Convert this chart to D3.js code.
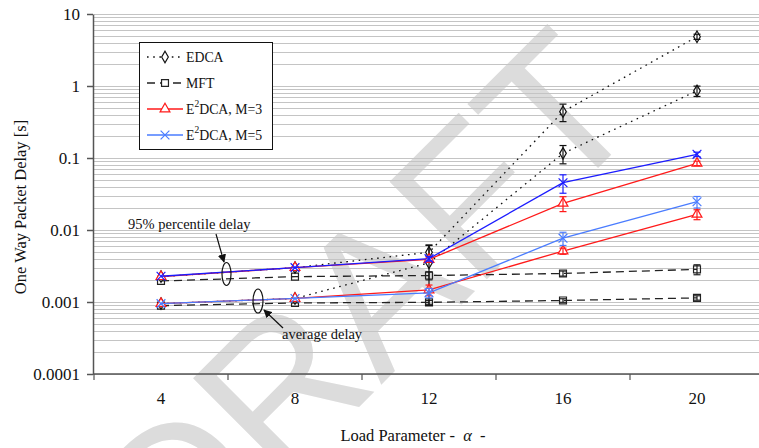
<!DOCTYPE html>
<html>
<head>
<meta charset="utf-8">
<script src="https://cdn.jsdelivr.net/npm/d3@7"></script>
<style>
  body { margin: 0; background: #fff; }
  svg text { font-family: "Liberation Serif", "Times New Roman", Times, "DejaVu Serif", serif; }
  svg text.wm { font-family: "Liberation Sans", Arial, sans-serif; }
</style>
</head>
<body>
<svg width="759" height="448"></svg>
<script>
// load parameter (categories)
const alpha = [4, 8, 12, 16, 20];
const yTicks = [0.0001, 0.001, 0.01, 0.1, 1, 10];

// 95% percentile delay [s]
const edca95 = [0.00225, 0.0030, 0.0049, 0.44, 4.84];
const mft95 = [0.00196, 0.00225, 0.00233, 0.00249, 0.00284];
const m3p95 = [0.00225, 0.0030, 0.0039, 0.0235, 0.0843];
const m5p95 = [0.00228, 0.0030, 0.0040, 0.0454, 0.1125];

// average delay [s]
const edcaAvg = [0.00095, 0.00112, 0.0035, 0.116, 0.856];
const mftAvg = [0.00089, 0.00097, 0.00099, 0.00105, 0.00114];
const m3Avg = [0.00095, 0.00112, 0.00147, 0.0051, 0.0165];
const m5Avg = [0.00095, 0.00112, 0.00134, 0.0077, 0.0247];

// error bars (+/-)
const edca95Err = [0, 0, 0.0013, 0.12, 0.4];
const mft95Err = [0, 0, 0.0003, 0.0002, 0.00045];
const m3p95Err = [0, 0, 0.0003, 0.0055, 0.006];
const m5p95Err = [0, 0, 0.0003, 0.013, 0.008];
const edcaAvgErr = [0, 0, 0.0026, 0.033, 0.14];
const mftAvgErr = [0, 0, 0.00006, 0.00006, 0.00008];
const m3AvgErr = [0, 0, 0.00025, 0.0005, 0.0026];
const m5AvgErr = [0, 0, 0.0002, 0.0016, 0.0045];

const svg = d3.select("svg");
const width = +svg.attr("width");

const x = d3.scaleBand().domain(alpha).range([94, 764]);
const y = d3.scaleLog().domain([0.0001, 10]).range([374, 14]);
const cx = (d) => x(d) + x.bandwidth() / 2;

// watermark
svg
  .append("text")
  .attr("class", "wm")
  .attr("transform", "translate(648,118) rotate(-45)")
  .attr("text-anchor", "end")
  .attr("font-size", 200)
  .attr("fill", "#dcdcdc")
  .text("DRAFT");

// gridlines
svg
  .append("g")
  .selectAll("line")
  .data(y.ticks())
  .enter()
  .append("line")
  .attr("x1", 94)
  .attr("x2", width)
  .attr("y1", (d) => Math.round(y(d)) + 0.5)
  .attr("y2", (d) => Math.round(y(d)) + 0.5)
  .attr("stroke", "#c4c4c4")
  .attr("stroke-width", 1);

// y axis
const yAxis = svg
  .append("g")
  .attr("transform", "translate(93,0)")
  .call(
    d3.axisLeft(y).tickValues(yTicks).tickFormat(String).tickSize(6).tickSizeOuter(0).tickPadding(7)
  );
yAxis.attr("font-family", null);
yAxis.select(".domain").attr("stroke", "#555").attr("stroke-width", 1.5);
yAxis.selectAll(".tick line").attr("stroke", "#555").attr("stroke-width", 1.5);
yAxis.selectAll("text").attr("font-size", 17).attr("fill", "#111");

// x axis (labels at centre, ticks between categories)
const xAxis = svg
  .append("g")
  .attr("transform", "translate(0,374)")
  .call(d3.axisBottom(x).tickSize(0).tickPadding(18).tickSizeOuter(0));
xAxis.attr("font-family", null);
xAxis.select(".domain").remove();
xAxis.selectAll("text").attr("font-size", 17).attr("fill", "#111");
svg
  .append("line")
  .attr("x1", 93)
  .attr("x2", width)
  .attr("y1", 374)
  .attr("y2", 374)
  .attr("stroke", "#555")
  .attr("stroke-width", 1.5);
svg
  .append("g")
  .selectAll("line")
  .data(alpha)
  .enter()
  .append("line")
  .attr("x1", (d) => x(d))
  .attr("x2", (d) => x(d))
  .attr("y1", 374)
  .attr("y2", 380)
  .attr("stroke", "#555")
  .attr("stroke-width", 1.2);

// axis titles
const xTitle = svg
  .append("text")
  .attr("x", 413)
  .attr("y", 441)
  .attr("text-anchor", "middle")
  .attr("font-size", 16.5)
  .attr("fill", "#111")
  .attr("xml:space", "preserve");
xTitle.append("tspan").text("Load Parameter -  ");
xTitle.append("tspan").attr("font-style", "italic").text("α");
xTitle.append("tspan").text("  -");

svg
  .append("text")
  .attr("transform", "translate(26,207) rotate(-90)")
  .attr("text-anchor", "middle")
  .attr("font-size", 16.5)
  .attr("fill", "#111")
  .text("One Way Packet Delay [s]");

// series
const styles = {
  EDCA: { color: "#111", dash: "1.6,4.6", symbol: d3.symbolDiamond, size: 38, fill: "#fff" },
  MFT: { color: "#222", dash: "8,5", symbol: d3.symbolSquare, size: 48, fill: "none" },
  M3: { color: "#ff1a1a", dash: null, symbol: d3.symbolTriangle, size: 42, fill: "#fff" },
  M5: { color: "#1c1cff", dash: null, symbol: d3.symbolTimes, size: 52, fill: "none" },
  M5avg: { color: "#4a7cff", dash: null, symbol: d3.symbolTimes, size: 52, fill: "none" },
};

const series = [
  { s: styles.MFT, values: mft95, err: mft95Err },
  { s: styles.MFT, values: mftAvg, err: mftAvgErr },
  { s: styles.EDCA, values: edca95, err: edca95Err },
  { s: styles.EDCA, values: edcaAvg, err: edcaAvgErr },
  { s: styles.M3, values: m3p95, err: m3p95Err },
  { s: styles.M3, values: m3Avg, err: m3AvgErr },
  { s: styles.M5, values: m5p95, err: m5p95Err },
  { s: styles.M5avg, values: m5Avg, err: m5AvgErr },
];

const line = d3
  .line()
  .x((d) => cx(d.a))
  .y((d) => y(d.v));

series.forEach((ser) => {
  const pts = alpha.map((a, i) => ({ a, v: ser.values[i], e: ser.err[i] }));
  const g = svg.append("g");

  g.append("path")
    .attr("d", line(pts))
    .attr("fill", "none")
    .attr("stroke", ser.s.color)
    .attr("stroke-width", 1.3)
    .attr("stroke-dasharray", ser.s.dash);

  g.selectAll(".mk")
    .data(pts)
    .enter()
    .append("path")
    .attr("transform", (d) => `translate(${cx(d.a)},${y(d.v)})`)
    .attr("d", d3.symbol().type(ser.s.symbol).size(ser.s.size))
    .attr("fill", ser.s.fill)
    .attr("stroke", ser.s.color)
    .attr("stroke-width", 1.2);

  // error bars
  const eb = g
    .selectAll(".eb")
    .data(pts.filter((d) => d.e > 0))
    .enter()
    .append("g")
    .attr("stroke", ser.s.color)
    .attr("stroke-width", 1.2);
  eb.append("line")
    .attr("x1", (d) => cx(d.a))
    .attr("x2", (d) => cx(d.a))
    .attr("y1", (d) => y(d.v + d.e))
    .attr("y2", (d) => y(Math.max(d.v - d.e, 0.00011)));
  eb.append("line")
    .attr("x1", (d) => cx(d.a) - 3.5)
    .attr("x2", (d) => cx(d.a) + 3.5)
    .attr("y1", (d) => y(d.v + d.e))
    .attr("y2", (d) => y(d.v + d.e));
  eb.append("line")
    .attr("x1", (d) => cx(d.a) - 3.5)
    .attr("x2", (d) => cx(d.a) + 3.5)
    .attr("y1", (d) => y(Math.max(d.v - d.e, 0.00011)))
    .attr("y2", (d) => y(Math.max(d.v - d.e, 0.00011)));
});

// legend
const legendItems = [
  { s: styles.EDCA, label: ["EDCA"] },
  { s: styles.MFT, label: ["MFT"] },
  { s: styles.M3, label: ["E", "2", "DCA, M=3"] },
  { s: { ...styles.M5, color: "#4a7cff" }, label: ["E", "2", "DCA, M=5"] },
];

const legend = svg.append("g");
legend
  .append("rect")
  .attr("x", 139.5)
  .attr("y", 42.5)
  .attr("width", 133)
  .attr("height", 107)
  .attr("fill", "#fff")
  .attr("stroke", "#111")
  .attr("stroke-width", 1);

legendItems.forEach((it, i) => {
  const ly = 57 + i * 26;
  legend
    .append("line")
    .attr("x1", 147)
    .attr("x2", 183)
    .attr("y1", ly)
    .attr("y2", ly)
    .attr("stroke", it.s.color)
    .attr("stroke-width", it.s.dash ? 1.6 : 1.3)
    .attr("stroke-dasharray", it.s.dash);
  legend
    .append("path")
    .attr("transform", `translate(165,${ly})`)
    .attr("d", d3.symbol().type(it.s.symbol).size(it.s.size))
    .attr("fill", it.s.fill === "none" ? "#fff" : it.s.fill)
    .attr("stroke", it.s.color)
    .attr("stroke-width", 1.2);
  const t = legend
    .append("text")
    .attr("x", 186)
    .attr("y", ly + 5)
    .attr("font-size", 13.8)
    .attr("fill", "#111");
  t.append("tspan").text(it.label[0]);
  if (it.label.length > 1) {
    t.append("tspan").attr("dy", -7).attr("font-size", 9.5).text(it.label[1]);
    t.append("tspan").attr("dy", 7).text(it.label[2]);
  }
});

// annotations
svg
  .append("defs")
  .append("marker")
  .attr("id", "arrow")
  .attr("viewBox", "0 0 10 10")
  .attr("refX", 9)
  .attr("refY", 5)
  .attr("markerWidth", 7)
  .attr("markerHeight", 7)
  .attr("orient", "auto")
  .append("path")
  .attr("d", "M0,0L10,5L0,10z")
  .attr("fill", "#111");

const notes = svg.append("g").attr("fill", "none").attr("stroke", "#111").attr("stroke-width", 1.2);
notes.append("ellipse").attr("cx", 226.5).attr("cy", 274).attr("rx", 4.5).attr("ry", 11.5);
notes.append("ellipse").attr("cx", 258).attr("cy", 301).attr("rx", 5).attr("ry", 12);
notes.append("line").attr("x1", 216).attr("y1", 234).attr("x2", 224).attr("y2", 262).attr("marker-end", "url(#arrow)");
notes.append("line").attr("x1", 283).attr("y1", 328).attr("x2", 264).attr("y2", 310).attr("marker-end", "url(#arrow)");

svg
  .append("text")
  .attr("x", 128)
  .attr("y", 229)
  .attr("font-size", 14.5)
  .attr("fill", "#111")
  .text("95% percentile delay");
svg
  .append("text")
  .attr("x", 282)
  .attr("y", 339)
  .attr("font-size", 14.5)
  .attr("fill", "#111")
  .text("average delay");
</script>
</body>
</html>
